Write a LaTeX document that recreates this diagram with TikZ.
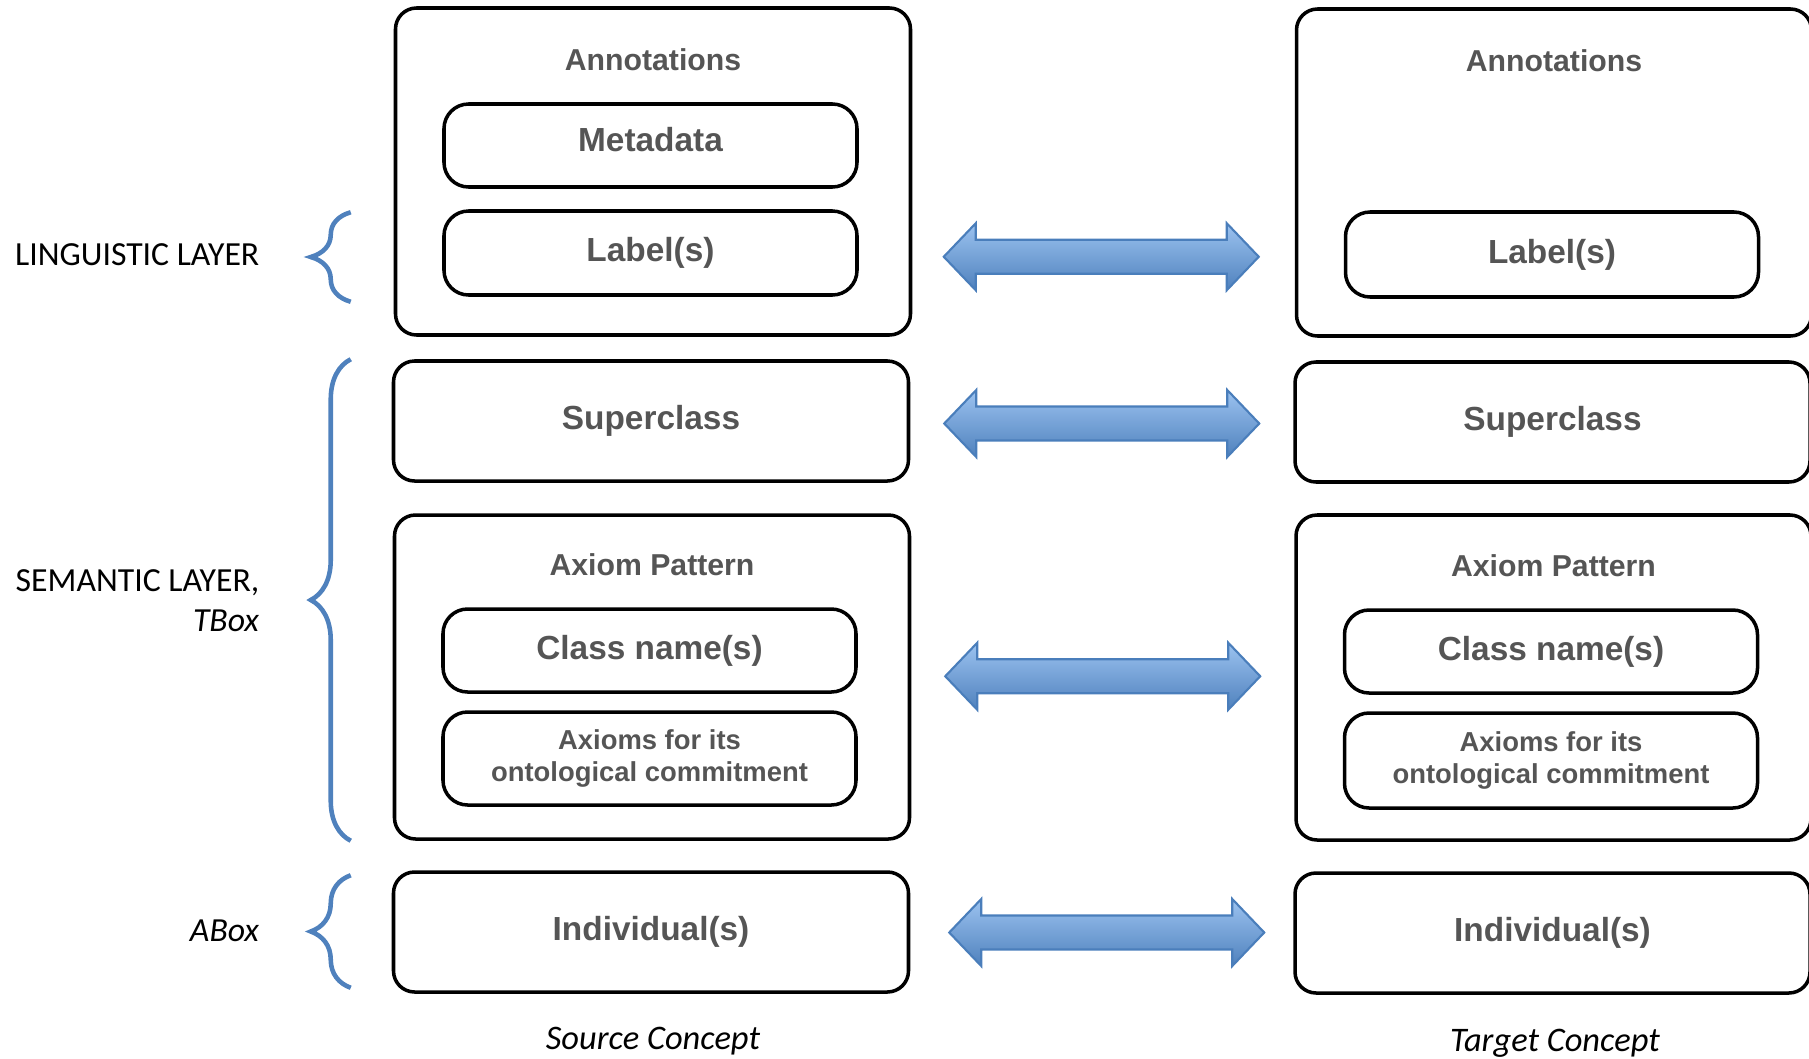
\documentclass[tikz,border=0pt]{standalone}
\usepackage{fontspec}
\setmainfont{Carlito}
\newfontfamily\boxfont{Liberation Sans}
\usetikzlibrary{calc,decorations.pathreplacing}
\definecolor{ontoBlue}{HTML}{4F81BD}
\definecolor{ontoLight}{HTML}{9CC3F0}
\definecolor{ontoEdge}{HTML}{4A7EBB}
\definecolor{ontoGray}{HTML}{555555}

\tikzset{
  pics/dblarr/.style={code={
    \path[top color=ontoLight,bottom color=ontoBlue,draw=ontoEdge,line width=0.6pt]
      (-1.575,0) -- (-1.255,0.335) -- (-1.255,0.17) -- (1.255,0.17) -- (1.255,0.335)
      -- (1.575,0) -- (1.255,-0.335) -- (1.255,-0.17) -- (-1.255,-0.17) -- (-1.255,-0.335) -- cycle;
  }}
}

\begin{document}
\begin{tikzpicture}[
    outer/.style={draw=black,line width=1pt,rounded corners=6pt,minimum width=5.15cm,inner sep=0pt},
    box/.style={outer,minimum height=1.2cm,text=ontoGray,font=\boxfont\bfseries\fontsize{9.5}{11}\selectfont},
    inbox/.style={draw=black,line width=1pt,rounded corners=7pt,minimum width=4.13cm,inner sep=0pt,
                  align=center,text=ontoGray,font=\boxfont\bfseries\fontsize{9.5}{11}\selectfont},
    small/.style={font=\boxfont\bfseries\fontsize{7.8}{9.5}\selectfont},
    title/.style={text=ontoGray,font=\boxfont\bfseries\fontsize{8.6}{10}\selectfont},
    layer/.style={anchor=east,align=right,inner sep=0pt,font=\fontsize{9.6}{11.4}\selectfont},
    concept/.style={font=\itshape\fontsize{9.8}{12}\selectfont},
    brc/.style={decorate,decoration={brace,amplitude=0.4cm},draw=ontoBlue,line width=1.3pt}]
  \useasboundingbox (0,0) rectangle (18.09,-10.59);

  % source concept
  \node[outer,minimum height=3.27cm] (annL) at (6.53,-1.715) {};
  \node[title] (annLt) at (6.53,-0.60) {Annotations};
  \node[inbox,minimum height=0.83cm] (metaL) at (6.505,-1.455) {\raisebox{0.12cm}{Metadata}};
  \node[inbox,minimum height=0.84cm] (labL) at (6.505,-2.53) {Label(s)};
  \node[box] (supL) at (6.51,-4.21) {Superclass};
  \node[outer,minimum height=3.24cm] (axL) at (6.52,-6.77) {};
  \node[title] (axLt) at (6.52,-5.645) {Axiom Pattern};
  \node[inbox,minimum height=0.83cm] (clsL) at (6.495,-6.505) {\raisebox{0.04cm}{Class name(s)}};
  \node[inbox,small,minimum height=0.93cm] (axmL) at (6.495,-7.585) {\raisebox{0.05cm}{\shortstack{Axioms for its\\[0.02cm]ontological commitment}}};
  \node[box] (indL) at (6.51,-9.32) {Individual(s)};

  % target concept
  \node[outer,minimum height=3.27cm] (annR) at (15.54,-1.725) {};
  \node[title] (annRt) at (15.54,-0.61) {Annotations};
  \node[inbox,minimum height=0.85cm] (labR) at (15.52,-2.545) {\raisebox{0.04cm}{Label(s)}};
  \node[box] (supR) at (15.525,-4.22) {Superclass};
  \node[outer,minimum height=3.25cm] (axR) at (15.535,-6.775) {};
  \node[title] (axRt) at (15.535,-5.655) {Axiom Pattern};
  \node[inbox,minimum height=0.83cm] (clsR) at (15.51,-6.515) {\raisebox{0.04cm}{Class name(s)}};
  \node[inbox,small,minimum height=0.95cm] (axmR) at (15.51,-7.605) {\raisebox{0.05cm}{\shortstack{Axioms for its\\[0.02cm]ontological commitment}}};
  \node[box] (indR) at (15.525,-9.33) {Individual(s)};

  % mappings
  \pic at ($(labL.east)!0.5!(labR.west)+(0,-0.03)$) {dblarr};
  \pic at ($(supL.east)!0.5!(supR.west)+(0,-0.02)$) {dblarr};
  \pic at ($(axL.east)!0.5!(axR.west)+(0,0.01)$) {dblarr};
  \pic at ($(indL.east)!0.5!(indR.west)+(0.05,0)$) {dblarr};

  % layers
  \coordinate (bx) at ([xshift=-0.41cm]supL.west);
  \draw[brc] ([yshift=-0.05cm]bx |- labL.south) -- ([yshift=-0.03cm]bx |- labL.north);
  \draw[brc] (bx |- axL.south) -- (bx |- supL.north);
  \draw[brc] ([yshift=0.06cm]bx |- indL.south) -- ([yshift=-0.05cm]bx |- indL.north);
  \node[layer] (ling) at (2.60,-2.55) {LINGUISTIC LAYER};
  \node[layer] (sem) at (2.60,-6.01) {SEMANTIC LAYER,\\\textit{TBox}};
  \node[layer] (abox) at (2.60,-9.31) {\textit{ABox}};

  \node[concept] (src) at (6.53,-10.41) {Source Concept};
  \node[concept] (tgt) at (15.55,-10.43) {Target Concept};
\end{tikzpicture}
\end{document}
